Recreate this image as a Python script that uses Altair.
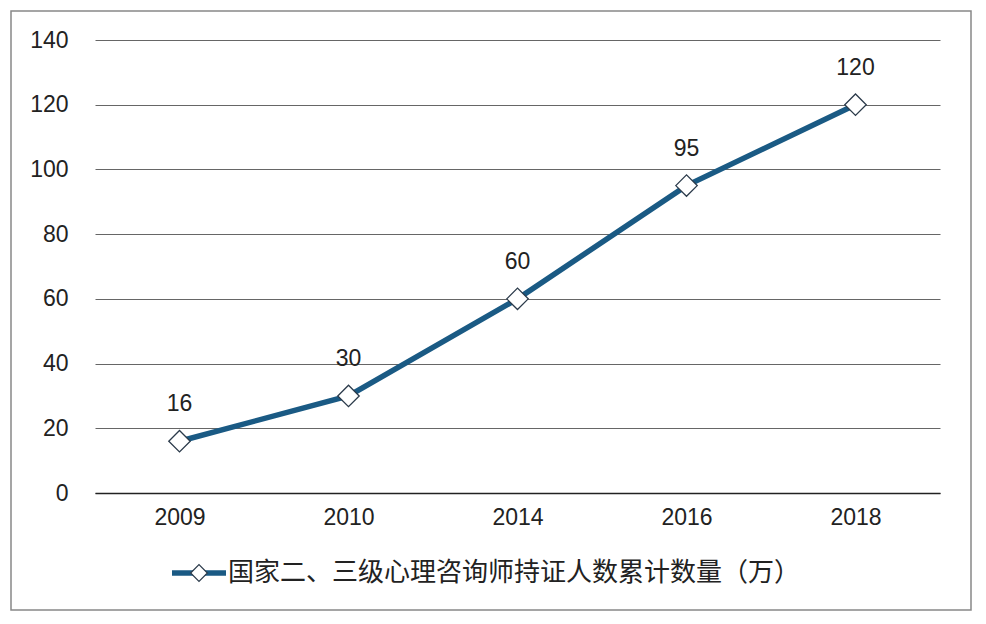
import altair as alt
import pandas as pd

years = ["2009", "2010", "2014", "2016", "2018"]
values = [16, 30, 60, 95, 120]
y_ticks = [0, 20, 40, 60, 80, 100, 120, 140]
legend_label = "国家二、三级心理咨询师持证人数累计数量（万）"

df = pd.DataFrame({"year": years, "value": values})

LINE = "#1A5A84"
FONT = "Liberation Sans"
CJK = "Noto Sans CJK SC"

x = alt.X("year:O", sort=years, title=None,
          scale=alt.Scale(type="point", padding=0.5),
          axis=alt.Axis(labelAngle=0, labelFont=FONT, labelFontSize=23, labelColor="#222",
                        labelPadding=13, ticks=False, domain=True, domainColor="#222",
                        domainWidth=1.5, grid=False))
y = alt.Y("value:Q", title=None,
          scale=alt.Scale(domain=[0, 140], nice=False),
          axis=alt.Axis(values=y_ticks, labelFont=FONT, labelFontSize=23, labelColor="#222",
                        labelPadding=27, ticks=False, domain=False, grid=True,
                        gridColor="#666", gridWidth=1))

base = alt.Chart(df)

line = base.mark_line(color=LINE, strokeWidth=5.5).encode(x=x, y=y)
pts = base.mark_point(shape="diamond", size=460, filled=True, fill="white",
                      stroke="#2B3A4A", strokeWidth=1.3, opacity=1).encode(x=x, y=y)
labels = base.mark_text(font=FONT, fontSize=23, color="#222", dy=-37,
                        baseline="middle").encode(x=x, y=y, text="value:Q")

leg_df = pd.DataFrame({"label": [legend_label]})
leg_line = alt.Chart(leg_df).mark_rule(color=LINE, strokeWidth=5.5, clip=False).encode(
    x=alt.value(77), x2=alt.value(131), y=alt.value(533))
leg_pt = alt.Chart(leg_df).mark_point(shape="diamond", size=280, filled=True, fill="white",
                                      stroke="#2B3A4A", strokeWidth=1.2, opacity=1,
                                      clip=False).encode(x=alt.value(104), y=alt.value(533))
leg_txt = alt.Chart(leg_df).mark_text(font=CJK, fontSize=26, color="#222", align="left",
                                      baseline="middle", clip=False).encode(
    x=alt.value(133), y=alt.value(533), text="label:N")

border = alt.Chart(leg_df).mark_rect(fill=None, stroke="#888", strokeWidth=1.5,
                                     clip=False).encode(
    x=alt.value(-84), x2=alt.value(876), y=alt.value(-29), y2=alt.value(570))

chart = alt.layer(border, line, pts, labels, leg_line, leg_pt, leg_txt).properties(
    width=845, height=453,
    autosize=alt.AutoSizeParams(type="none"),
    padding={"left": 87, "top": 32, "right": 38, "bottom": 120},
    background="white",
).configure_view(stroke=None)

chart.save("out.html", embed_options={"renderer": "svg", "actions": False})
